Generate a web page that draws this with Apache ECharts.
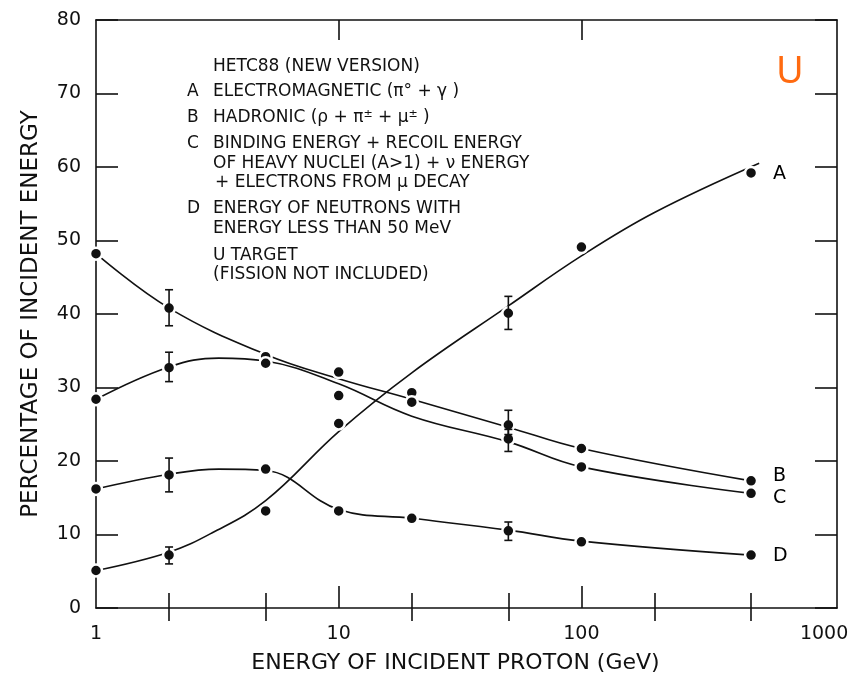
<!DOCTYPE html>
<html>
<head>
<meta charset="utf-8">
<title>HETC88 energy deposition, U target</title>
<script src="https://cdn.jsdelivr.net/npm/echarts@6/dist/echarts.min.js"></script>
<style>
  html, body { margin: 0; padding: 0; background: #ffffff; }
  #chart { width: 862px; height: 685px; }
</style>
</head>
<body>
<div id="chart"></div>
<script>
// ---- data -----------------------------------------------------------------
// Incident proton energy (GeV) and share of the incident energy (%)

// Computed points
const pointsA = [[1, 5.1], [2, 7.2], [5, 13.2], [10, 25.1], [50, 40.1], [100, 49.1], [500, 59.2]];
const pointsB = [[1, 48.2], [2, 40.8], [5, 34.2], [10, 32.1], [20, 29.3], [50, 24.9], [100, 21.7], [500, 17.3]];
const pointsC = [[1, 28.4], [2, 32.7], [5, 33.3], [10, 28.9], [20, 28.0], [50, 23.0], [100, 19.2], [500, 15.6]];
const pointsD = [[1, 16.2], [2, 18.1], [5, 18.9], [10, 13.2], [20, 12.2], [50, 10.5], [100, 9.0], [500, 7.2]];

// Fitted curves through the points
const curveA = [[1, 5.1], [2, 7.6], [3, 10.2], [5, 14.6], [10, 24.0], [20, 32.0], [50, 41.1], [100, 47.9], [200, 53.8], [540, 60.5]];
const curveB = [[1, 48.2], [2, 40.8], [5, 34.5], [10, 31.2], [20, 28.4], [50, 24.6], [100, 21.7], [500, 17.3]];
const curveC = [[1, 28.4], [2, 32.8], [3.2, 34.0], [5, 33.6], [10, 30.5], [20, 26.1], [50, 22.6], [100, 19.2], [500, 15.6]];
const curveD = [[1, 16.2], [2, 18.2], [3.2, 18.9], [5, 18.7], [10, 13.4], [20, 12.2], [50, 10.6], [100, 9.1], [500, 7.2]];

// Statistical error bars: [energy, low, high]
const errorsA = [[2, 6.0, 8.3], [50, 37.9, 42.4]];
const errorsB = [[2, 38.4, 43.3], [50, 23.6, 26.9]];
const errorsC = [[2, 30.8, 34.8], [50, 21.3, 24.3]];
const errorsD = [[2, 15.8, 20.4], [50, 9.2, 11.7]];

// Axis ticks and labels
const xLabelValues = [1, 10, 100, 1000];
const xMajorTicks = [10, 100];
const xMinorTicks = [2, 5, 20, 50, 200, 500];
const xMin = 1;
const xMax = 1130;
const yMin = 0;
const yMax = 80;
const yStep = 10;

// Curve letters (placed next to the last point of each curve)
const curveLetters = ['A', 'B', 'C', 'D'];

// Notes block
const noteTitle = 'HETC88 (NEW VERSION)';
const noteEntries = [
  { key: 'A', lines: ['ELECTROMAGNETIC (π° + γ )'] },
  { key: 'B', lines: ['HADRONIC (ρ + π{s|±} + μ{s|±} )'] },
  { key: 'C', lines: ['BINDING ENERGY + RECOIL ENERGY', 'OF HEAVY NUCLEI (A>1) + ν ENERGY', '+ ELECTRONS FROM μ DECAY'] },
  { key: 'D', lines: ['ENERGY OF NEUTRONS WITH', 'ENERGY LESS THAN 50 MeV'] }
];
const noteTarget = ['U TARGET', '(FISSION NOT INCLUDED)'];
const targetTag = 'U';

const xTitle = 'ENERGY OF INCIDENT PROTON (GeV)';
const yTitle = 'PERCENTAGE OF INCIDENT ENERGY';

// ---- styling ----------------------------------------------------------------
const ink = '#111111';
const face = 'DejaVu Sans';
const lineW = 1.6;

const chart = echarts.init(document.getElementById('chart'), null, { renderer: 'canvas' });

function logXAxis(extra) {
  return Object.assign({
    type: 'log',
    logBase: 10,
    min: xMin,
    max: xMax,
    splitLine: { show: false },
    minorTick: { show: false },
    minorSplitLine: { show: false },
    axisLine: { show: false },
    axisLabel: { show: false },
    axisTick: { show: false }
  }, extra);
}

function valueYAxis(extra) {
  return Object.assign({
    type: 'value',
    min: yMin,
    max: yMax,
    interval: yStep,
    splitLine: { show: false },
    axisLine: { show: true, onZero: false, lineStyle: { color: ink, width: lineW } },
    axisTick: { show: true, inside: true, length: 22, lineStyle: { color: ink, width: lineW } },
    axisLabel: { show: false }
  }, extra);
}

// white ring round each dot breaks the curve next to it
function dotSeries(data) {
  return {
    type: 'scatter',
    data: data,
    symbol: 'circle',
    symbolSize: 12,
    clip: false,
    z: 4,
    itemStyle: { color: ink, borderColor: '#ffffff', borderWidth: 2.5, opacity: 1 },
    emphasis: { disabled: true }
  };
}

function curveSeries(data) {
  return {
    type: 'line',
    data: data,
    smooth: 0.4,
    showSymbol: false,
    symbol: 'none',
    clip: false,
    z: 3,
    lineStyle: { color: ink, width: 1.6 },
    emphasis: { disabled: true }
  };
}

function errorSeries(data) {
  return {
    type: 'custom',
    data: data,
    clip: false,
    z: 5,
    encode: { x: 0, y: [1, 2] },
    renderItem: function (params, api) {
      const lo = api.coord([api.value(0), api.value(1)]);
      const hi = api.coord([api.value(0), api.value(2)]);
      const cap = 4;
      const st = { stroke: ink, lineWidth: 1.6 };
      return {
        type: 'group',
        children: [
          { type: 'line', shape: { x1: lo[0], y1: lo[1], x2: hi[0], y2: hi[1] }, style: st },
          { type: 'line', shape: { x1: lo[0] - cap, y1: lo[1], x2: lo[0] + cap, y2: lo[1] }, style: st },
          { type: 'line', shape: { x1: hi[0] - cap, y1: hi[1], x2: hi[0] + cap, y2: hi[1] }, style: st }
        ]
      };
    }
  };
}

// label the last point of a curve with its letter
function letterSeries(point, letter, dy) {
  return {
    type: 'scatter',
    data: [point],
    symbolSize: 0,
    clip: false,
    z: 6,
    silent: true,
    label: {
      show: true,
      position: 'right',
      distance: 22,
      offset: [0, dy],
      formatter: letter,
      color: '#000000',
      opacity: 1,
      textBorderWidth: 0,
      fontFamily: face,
      fontSize: 19
    },
    itemStyle: { opacity: 1 }
  };
}

// notes block as text graphics
const noteFont = 17;
const noteX = 213;
const keyX = 187;
const noteGraphics = [];
const rich = { s: { fontSize: 11, fontFamily: face, fill: ink, verticalAlign: 'top', lineHeight: 18 } };
function noteText(x, y, str) {
  noteGraphics.push({
    type: 'text',
    x: x,
    y: y,
    silent: true,
    style: {
      text: str,
      fill: ink,
      fontFamily: face,
      fontSize: noteFont,
      verticalAlign: 'middle',
      lineHeight: 18,
      rich: rich
    }
  });
}
const rowY = [67, 92, 117.5, 144, 163.5, 182.5, 209, 228.5, 255.5, 274.5];
let row = 0;
noteText(noteX, rowY[row++], noteTitle);
noteEntries.forEach(function (entry) {
  noteText(keyX, rowY[row], entry.key);
  entry.lines.forEach(function (ln, i) {
    noteText(noteX + (ln.charAt(0) === '+' && i > 0 ? 2 : 0), rowY[row++], ln);
  });
});
noteTarget.forEach(function (ln) { noteText(noteX, rowY[row++], ln); });

noteGraphics.push({
  type: 'text',
  x: 790,
  y: 72,
  silent: true,
  style: {
    text: targetTag,
    fill: '#ff6a10',
    fontFamily: 'Noto Sans',
    fontSize: 38,
    align: 'center',
    verticalAlign: 'middle'
  }
});

const option = {
  backgroundColor: '#ffffff',
  animation: false,
  grid: {
    left: 96,
    right: 25,
    top: 20,
    bottom: 77,
    containLabel: false,
    outerBoundsMode: 'none'
  },
  xAxis: [
    // bottom edge: spine, decade ticks and labels
    logXAxis({
      position: 'bottom',
      axisLine: { show: true, onZero: false, lineStyle: { color: ink, width: lineW } },
      axisTick: { show: true, inside: true, length: 22, customValues: xMajorTicks, lineStyle: { color: ink, width: lineW } },
      axisLabel: {
        show: true,
        customValues: xLabelValues,
        margin: 17,
        color: ink,
        fontFamily: face,
        fontSize: 19,
        formatter: function (v) { return String(Math.round(v)); }
      },
      name: xTitle,
      nameLocation: 'middle',
      nameGap: 44,
      nameTextStyle: { color: ink, fontFamily: face, fontSize: 22, padding: [0, 22, 0, 0] }
    }),
    // bottom edge: intermediate ticks
    logXAxis({
      position: 'bottom',
      axisTick: { show: true, inside: true, length: 15, customValues: xMinorTicks, lineStyle: { color: ink, width: lineW } }
    }),
    // top edge: spine and decade ticks
    logXAxis({
      position: 'top',
      axisLine: { show: true, onZero: false, lineStyle: { color: ink, width: lineW } },
      axisTick: { show: true, inside: true, length: 20, customValues: xMajorTicks, lineStyle: { color: ink, width: lineW } }
    }),
    // top edge: intermediate ticks
    logXAxis({
      position: 'top',
      axisTick: { show: true, inside: true, length: 13, customValues: xMinorTicks, lineStyle: { color: ink, width: lineW } }
    })
  ],
  yAxis: [
    valueYAxis({
      position: 'left',
      axisLabel: { show: true, margin: 15, color: ink, fontFamily: face, fontSize: 19 },
      name: yTitle,
      nameLocation: 'middle',
      nameRotate: 90,
      nameGap: 53,
      nameTextStyle: { color: ink, fontFamily: face, fontSize: 23, padding: [0, 0, 0, 0] }
    }),
    valueYAxis({ position: 'right' })
  ],
  series: [
    curveSeries(curveA), curveSeries(curveB), curveSeries(curveC), curveSeries(curveD),
    dotSeries(pointsA), dotSeries(pointsB), dotSeries(pointsC), dotSeries(pointsD),
    errorSeries(errorsA), errorSeries(errorsB), errorSeries(errorsC), errorSeries(errorsD),
    letterSeries(pointsA[pointsA.length - 1], curveLetters[0], 1),
    letterSeries(pointsB[pointsB.length - 1], curveLetters[1], -5),
    letterSeries(pointsC[pointsC.length - 1], curveLetters[2], 5),
    letterSeries(pointsD[pointsD.length - 1], curveLetters[3], 1)
  ],
  graphic: { elements: noteGraphics }
};

chart.setOption(option);
</script>
</body>
</html>
